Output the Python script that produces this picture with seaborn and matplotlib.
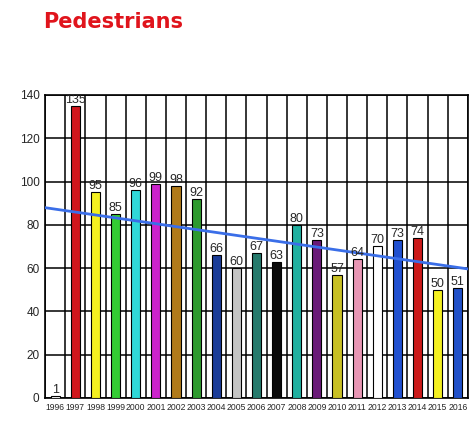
import numpy as np
import pandas as pd
import matplotlib
matplotlib.use("Agg")
import matplotlib.pyplot as plt
import seaborn as sns

years = [str(y) for y in range(1996, 2017)]
deaths = [1, 135, 95, 85, 96, 99, 98, 92, 66, 60, 67, 63, 80, 73, 57, 64, 70, 73, 74, 50, 51]
bar_colors = ["#ffffff", "#d0161c", "#f4f020", "#33cc33", "#30d8d8", "#cc22cc", "#b07a1a",
              "#2e9a2e", "#1a3c98", "#c4c4c4", "#257a6c", "#0a0a0a", "#20b0a0", "#6a1a78",
              "#c8c024", "#e896b4", "#ffffff", "#2050d0", "#cc1a1a", "#f4f020", "#2050c8"]

df = pd.DataFrame({"Year": years, "Deaths": deaths})

sns.set_style("white")
plt.rcParams["font.family"] = ["Liberation Sans", "DejaVu Sans"]

fig = plt.figure(figsize=(4.75, 4.26), dpi=100)
ax = fig.add_axes([0.095, 0.066, 0.89, 0.711])

sns.barplot(data=df, x="Year", y="Deaths", hue="Year", palette=bar_colors, legend=False,
            saturation=1, width=0.45, edgecolor="black", linewidth=0.8, ax=ax, zorder=3)
for c in ax.containers:
    ax.bar_label(c, fontsize=9, padding=0, zorder=5)

ax.set_xlim(-0.5, len(years) - 0.5)
ax.set_ylim(0, 140)
ax.set_yticks(range(0, 141, 20))

# trend line
sns.regplot(x=np.arange(len(deaths)), y=np.array(deaths), ax=ax, scatter=False, ci=None,
            truncate=False, color="#3a6ee8", line_kws={"linewidth": 2, "zorder": 4})

ax.set_xticks(np.arange(len(years)))
ax.set_xticklabels(years, fontsize=6.2)
ax.set_xticks(np.arange(-0.5, len(years), 1), minor=True)
ax.tick_params(axis="y", labelsize=8.5, length=0, pad=4)
ax.tick_params(axis="x", which="both", length=0, pad=4)
ax.grid(which="minor", axis="x", color="black", linewidth=1.1)
ax.grid(which="major", axis="y", color="black", linewidth=1.1)
ax.set_axisbelow(True)
for s in ax.spines.values():
    s.set_color("black")
    s.set_linewidth(1.2)
ax.set_xlabel("")
ax.set_ylabel("")

fig.text(0.09, 0.935, "Pedestrians", color="#e0141c", fontsize=15, fontweight="bold",
         family="DejaVu Sans")

fig.savefig("out.png", dpi=100)
